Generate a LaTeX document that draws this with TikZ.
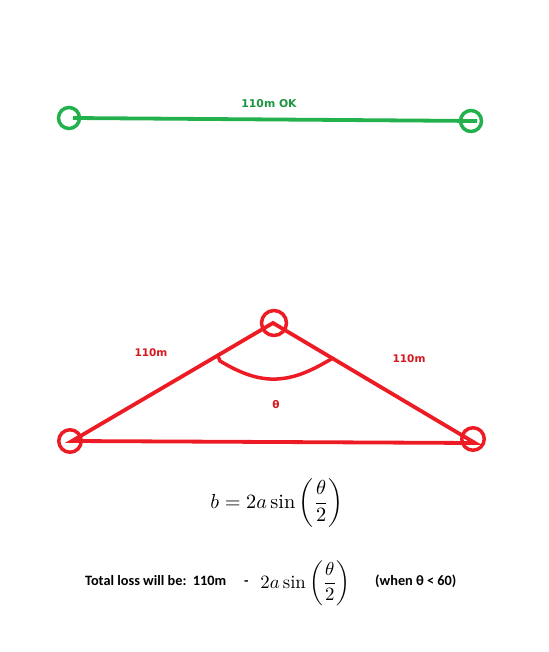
\documentclass[tikz,border=0pt]{standalone}
\usepackage{fontspec}
\newfontfamily\labfont{DejaVu Sans}
\newfontfamily\calfont{Carlito}
\definecolor{pgreen}{RGB}{34,177,76}
\definecolor{pred}{RGB}{237,28,36}
\tikzset{
  gring/.style={circle, draw=pgreen, line width=3.5pt, minimum size=21pt, inner sep=0pt},
  rring/.style={circle, draw=pred, line width=3.5pt, minimum size=22.5pt, inner sep=0pt},
  gline/.style={draw=pgreen, line width=3.8pt},
  rline/.style={draw=pred, line width=3.8pt, line join=miter},
  glab/.style={text=pgreen!85!black, font=\labfont\bfseries\fontsize{10.8}{12}\selectfont, inner sep=0pt},
  rlab/.style={text=pred!90!black, font=\labfont\bfseries\fontsize{10.5}{12}\selectfont, inner sep=0pt},
  btxt/.style={font=\calfont\bfseries\fontsize{14.3}{16}\selectfont, inner sep=0pt, anchor=base west},
}
\begin{document}
\begin{tikzpicture}[x=1pt, y=-1pt]
\useasboundingbox[fill=white] (0,0) rectangle (548,652);
% green line
\node[gring] (gl) at (69,118) {};
\node[gring] (gr) at (471,121) {};
\coordinate (ga) at (73,118);
\coordinate (gb) at (477,121);
\draw[gline] (ga) -- (gb);
\node[glab] (okl) at (269,104) {110m OK};
% red triangle
\node[rring, minimum size=25pt] (rt) at (274,323) {};
\node[rring] (rl) at (70,441) {};
\node[rring] (rr) at (473,439) {};
\coordinate (vt) at (273,323);
\coordinate (vl) at (72,441);
\coordinate (vr) at (475,443);
\draw[rline] (vl) -- (vt) -- (vr) -- cycle;
\coordinate (aa) at (218,356);
\coordinate (ab) at (333,358);
\draw[draw=pred, line width=3.5pt, line cap=round] (aa) -- (220,361) .. controls (240,373) and (258,380) .. (277,379) .. controls (298,378) and (316,368) .. (ab);
\node[rlab] (l1) at (151,353) {110m};
\node[rlab] (l2) at (409,359) {110m};
\node[rlab] (th) at (276,405) {θ};
% formulas
\node[inner sep=0pt, anchor=base west, scale=2.03] (f1) at (210,508) {$\displaystyle b = 2a\sin\left(\frac{\theta}{2}\right)$};
\node[btxt] (t1) at (85,585) {Total loss will be:\ \ 110m};
\node[btxt] (t2) at (244,585) {-};
\node[inner sep=0pt, anchor=base west, scale=1.88] (f2) at (260,588) {$\displaystyle 2a\sin\left(\frac{\theta}{2}\right)$};
\node[btxt] (t3) at (375,585) {(when θ < 60)};
\end{tikzpicture}
\end{document}
